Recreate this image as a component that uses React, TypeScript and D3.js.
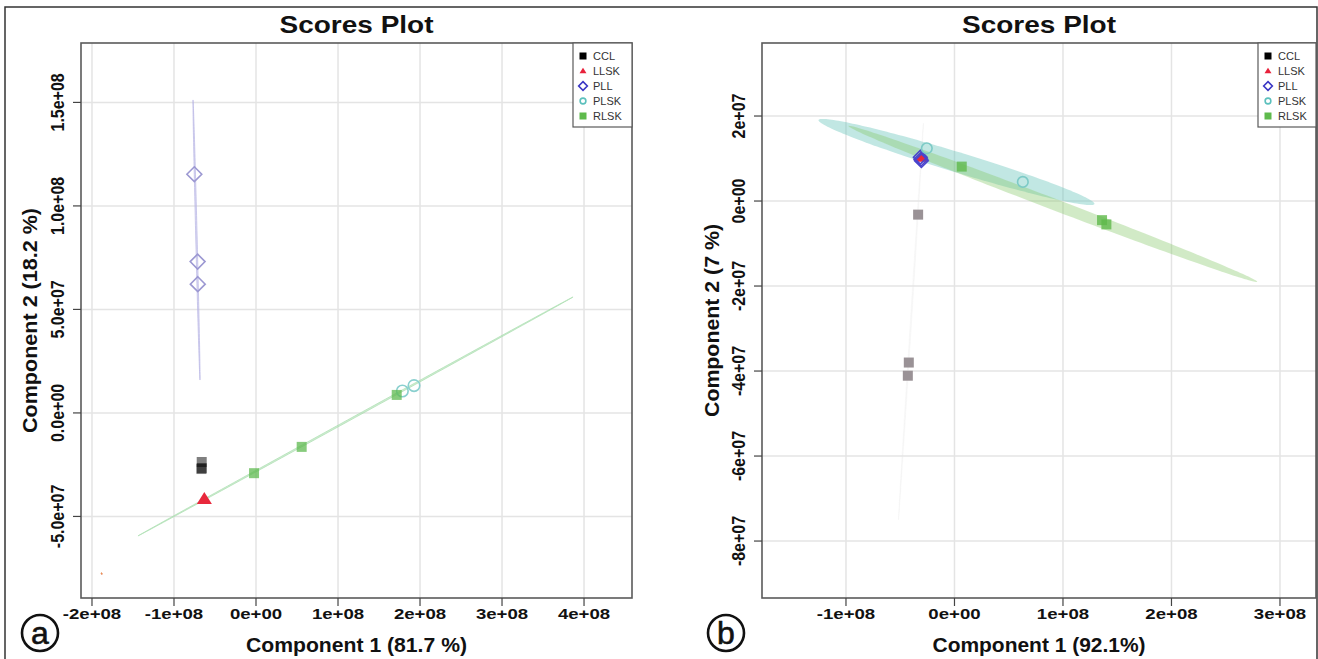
import React from "react";
import * as d3 from "d3";

// ---------- DATA ----------
const groups = ["CCL", "LLSK", "PLL", "PLSK", "RLSK"];

// Panel a scores
const aGroup = ["CCL", "CCL", "CCL", "LLSK", "PLL", "PLL", "PLL", "PLSK", "PLSK", "RLSK", "RLSK", "RLSK"];
const aPC1 = [-0.662e8, -0.662e8, -0.665e8, -0.63e8, -0.752e8, -0.712e8, -0.71e8, 1.785e8, 1.927e8, -0.024e8, 0.557e8, 1.716e8];
const aPC2 = [-2.37e7, -2.66e7, -2.71e7, -4.17e7, 1.153e8, 0.731e8, 0.622e8, 1.06e7, 1.32e7, -2.91e7, -1.64e7, 0.87e7];

// Panel b scores
const bGroup = ["CCL", "CCL", "CCL", "LLSK", "PLL", "PLL", "PLL", "PLSK", "PLSK", "RLSK", "RLSK", "RLSK"];
const bPC1 = [-0.335e8, -0.421e8, -0.43e8, -0.305e8, -0.31e8, -0.315e8, -0.305e8, -0.255e8, 0.63e8, 0.067e8, 1.36e8, 1.4e8];
const bPC2 = [-0.32e7, -3.8e7, -4.11e7, 1.02e7, 0.98e7, 1.03e7, 0.95e7, 1.24e7, 0.45e7, 0.81e7, -0.45e7, -0.55e7];

// Confidence ellipses: group, two tips of the major axis (data units), minor/major ratio
const aEllGroup = ["LLSK", "PLL", "RLSK"];
const aEllTips = [
  [-1.885e8, -7.72e7, -1.879e8, -7.8e7],
  [-0.768e8, 1.512e8, -0.683e8, 0.159e8],
  [-1.439e8, -5.94e7, 3.866e8, 5.6e7],
];
const aEllRatio = [0.5, 0.005, 0.003];

const bEllGroup = ["CCL", "PLSK", "RLSK"];
const bEllTips = [
  [-0.286e8, 1.835e7, -0.516e8, -7.5e7],
  [-1.253e8, 1.906e7, 1.29e8, -0.07e7],
  [-0.977e8, 1.765e7, 2.79e8, -1.9e7],
];
const bEllRatio = [0.003, 0.07, 0.026];

// Axes
const aXDomain = [-2.134e8, 4.585e8];
const aYDomain = [-8.94e7, 1.787e8];
const aXTicks = [-2e8, -1e8, 0, 1e8, 2e8, 3e8, 4e8];
const aXTickLabels = ["-2e+08", "-1e+08", "0e+00", "1e+08", "2e+08", "3e+08", "4e+08"];
const aYTicks = [-5e7, 0, 5e7, 1e8, 1.5e8];
const aYTickLabels = ["-5.0e+07", "0.0e+00", "5.0e+07", "1.0e+08", "1.5e+08"];

const bXDomain = [-1.774e8, 3.332e8];
const bYDomain = [-9.34e7, 3.718e7];
const bXTicks = [-1e8, 0, 1e8, 2e8, 3e8];
const bXTickLabels = ["-1e+08", "0e+00", "1e+08", "2e+08", "3e+08"];
const bYTicks = [-8e7, -6e7, -4e7, -2e7, 0, 2e7];
const bYTickLabels = ["-8e+07", "-6e+07", "-4e+07", "-2e+07", "0e+00", "2e+07"];

// ---------- STYLES ----------
const FONT = "'Liberation Sans', Arial, sans-serif";
const legendColor: Record<string, string> = {
  CCL: "#000000",
  LLSK: "#e8213b",
  PLL: "#3a36c4",
  PLSK: "#5cc0bd",
  RLSK: "#5fba4c",
};
const styleA: Record<string, any> = {
  CCL: { fill: "rgba(0,0,0,0.5)", stroke: "none" },
  LLSK: { fill: "#e8283c", stroke: "none" },
  PLL: { fill: "none", stroke: "#9c98d2" },
  PLSK: { fill: "none", stroke: "#8ad0cf" },
  RLSK: { fill: "rgba(95,185,80,0.75)", stroke: "none" },
};
const styleB: Record<string, any> = {
  CCL: { fill: "#9a9296", stroke: "none" },
  LLSK: { fill: "#e8283c", stroke: "none" },
  PLL: { fill: "none", stroke: "#4a44cc" },
  PLSK: { fill: "none", stroke: "#7ccac6" },
  RLSK: { fill: "rgba(95,185,75,0.8)", stroke: "none" },
};
const ellStyleA: Record<string, any> = {
  LLSK: { fill: "#f0a060", stroke: "#f0a060", sw: 1 },
  PLL: { fill: "rgba(185,183,230,0.5)", stroke: "rgba(185,183,230,0.7)", sw: 1 },
  RLSK: { fill: "rgba(165,220,170,0.5)", stroke: "rgba(170,222,175,0.7)", sw: 1 },
};
const ellStyleB: Record<string, any> = {
  CCL: { fill: "rgba(230,230,230,0.25)", stroke: "rgba(232,232,232,0.4)", sw: 0.5 },
  PLSK: { fill: "rgba(100,195,185,0.4)", stroke: "none", sw: 0 },
  RLSK: { fill: "rgba(135,200,105,0.38)", stroke: "none", sw: 0 },
};

function Marker({ g, x, y, st, size }: any) {
  const s = size;
  if (g === "CCL" || g === "RLSK") {
    return <rect x={x - s / 2} y={y - s / 2} width={s} height={s} fill={st.fill} stroke={st.stroke} />;
  }
  if (g === "LLSK") {
    const h = s * 0.9;
    return (
      <path
        d={`M${x},${y - h * 0.62}L${x + s * 0.58},${y + h * 0.4}L${x - s * 0.58},${y + h * 0.4}Z`}
        fill={st.fill}
      />
    );
  }
  if (g === "PLL") {
    const r = s * 0.62;
    return (
      <path
        d={`M${x},${y - r}L${x + r},${y}L${x},${y + r}L${x - r},${y}Z`}
        fill="none"
        stroke={st.stroke}
        strokeWidth={1.6}
      />
    );
  }
  return <circle cx={x} cy={y} r={s * 0.48} fill="none" stroke={st.stroke} strokeWidth={1.6} />;
}

function ellipsePath(xs: any, ys: any, tips: number[], ratio: number) {
  const x1 = xs(tips[0]), y1 = ys(tips[1]), x2 = xs(tips[2]), y2 = ys(tips[3]);
  const cx = (x1 + x2) / 2, cy = (y1 + y2) / 2;
  const a = Math.hypot(x2 - x1, y2 - y1) / 2;
  const b = Math.max(a * ratio, 0.5);
  const th = Math.atan2(y2 - y1, x2 - x1);
  const pts = d3.range(0, 2 * Math.PI, Math.PI / 90).map((t) => {
    const ex = a * Math.cos(t), ey = b * Math.sin(t);
    return [cx + ex * Math.cos(th) - ey * Math.sin(th), cy + ex * Math.sin(th) + ey * Math.cos(th)] as [number, number];
  });
  return d3.line().curve(d3.curveLinearClosed)(pts) as string;
}

function Panel(p: any) {
  const { left, right, top, bottom } = p;
  const xs = d3.scaleLinear().domain(p.xDomain).range([left, right]);
  const ys = d3.scaleLinear().domain(p.yDomain).range([bottom, top]);
  const cxm = (left + right) / 2;
  const cym = (top + bottom) / 2;
  const lg = p.legendLeft;
  return (
    <g>
      {/* title */}
      <text x={cxm} y={33} textAnchor="middle" fontFamily={FONT} fontWeight="bold" fontSize={24} textLength={154} lengthAdjust="spacingAndGlyphs" fill="#111">
        Scores Plot
      </text>
      {/* grid */}
      {p.xTicks.map((t: number, i: number) => (
        <line key={"gx" + i} x1={xs(t)} x2={xs(t)} y1={top} y2={bottom} stroke="#e4e4e4" strokeWidth={1.5} />
      ))}
      {p.yTicks.map((t: number, i: number) => (
        <line key={"gy" + i} x1={left} x2={right} y1={ys(t)} y2={ys(t)} stroke="#e4e4e4" strokeWidth={1.5} />
      ))}
      {/* ellipses */}
      {p.ellGroup.map((g: string, i: number) => {
        const st = p.ellStyle[g];
        return (
          <path key={"e" + i} d={ellipsePath(xs, ys, p.ellTips[i], p.ellRatio[i])} fill={st.fill} stroke={st.stroke} strokeWidth={st.sw} />
        );
      })}
      {/* points, drawn group by group */}
      {groups.map((g) =>
        p.group.map((gg: string, i: number) =>
          gg === g ? <Marker key={g + i} g={g} x={xs(p.pc1[i])} y={ys(p.pc2[i])} st={p.style[g]} size={p.markSize[g]} /> : null
        )
      )}
      {/* box */}
      <rect x={left} y={top} width={right - left} height={bottom - top} fill="none" stroke="#5a5a5a" strokeWidth={1.6} />
      {/* x axis ticks */}
      {p.xTicks.map((t: number, i: number) => (
        <g key={"xt" + i}>
          <line x1={xs(t)} x2={xs(t)} y1={bottom} y2={bottom + 8} stroke="#444" strokeWidth={1.2} />
          <g transform={`translate(${xs(t)},${619}) scale(1.2,1)`}>
            <text x={0} y={0} textAnchor="middle" fontFamily={FONT} fontWeight="bold" fontSize={15.5} fill="#111">
              {p.xTickLabels[i]}
            </text>
          </g>
        </g>
      ))}
      {/* y axis ticks */}
      {p.yTicks.map((t: number, i: number) => (
        <g key={"yt" + i}>
          <line x1={left - 8} x2={left} y1={ys(t)} y2={ys(t)} stroke="#444" strokeWidth={1.2} />
          <g transform={`translate(${left - 17},${ys(t)}) rotate(-90) scale(1.03,1.2)`}>
            <text x={0} y={0} textAnchor="middle" fontFamily={FONT} fontWeight="bold" fontSize={15.5} fill="#111">
              {p.yTickLabels[i]}
            </text>
          </g>
        </g>
      ))}
      {/* axis titles */}
      <text x={cxm} y={652} textAnchor="middle" fontFamily={FONT} fontWeight="bold" fontSize={20} textLength={p.xTitleLen} lengthAdjust="spacingAndGlyphs" fill="#111">
        {p.xTitle}
      </text>
      <text
        transform={`translate(${p.yTitleX},${cym}) rotate(-90)`}
        textAnchor="middle"
        fontFamily={FONT}
        fontWeight="bold"
        fontSize={20}
        textLength={p.yTitleLen}
        lengthAdjust="spacingAndGlyphs"
        fill="#111"
      >
        {p.yTitle}
      </text>
      {/* legend */}
      <rect x={lg} y={top} width={right - lg} height={84} fill="#fff" stroke="#5a5a5a" strokeWidth={1.2} />
      {groups.map((g, i) => {
        const yy = top + 13 + i * 15;
        return (
          <g key={"lg" + g}>
            <Marker g={g} x={lg + 10} y={yy} st={{ fill: legendColor[g], stroke: legendColor[g] }} size={g === "PLL" ? 7 : 6} />
            <text x={lg + 20} y={yy + 4} fontFamily={FONT} fontSize={11} fill="#333">
              {g}
            </text>
          </g>
        );
      })}
      {/* circled panel letter */}
      <circle cx={p.letterX} cy={633} r={18} fill="#fff" stroke="#111" strokeWidth={2.6} />
      <text x={p.letterX} y={644} textAnchor="middle" fontFamily={FONT} fontSize={32} fontWeight={500} stroke="#111" strokeWidth={0.6} fill="#111">
        {p.letter}
      </text>
    </g>
  );
}

export default function App() {
  return (
    <svg width={1318} height={659} style={{ position: "absolute", left: 0, top: 0, background: "#fff" }}>
      <rect x={0} y={0} width={1318} height={659} fill="#fff" />
      <rect x={5} y={7} width={1312} height={660} fill="none" stroke="#333" strokeWidth={1.5} />
      <Panel
        left={81}
        right={632}
        top={43}
        bottom={598}
        xDomain={aXDomain}
        yDomain={aYDomain}
        xTicks={aXTicks}
        xTickLabels={aXTickLabels}
        yTicks={aYTicks}
        yTickLabels={aYTickLabels}
        group={aGroup}
        pc1={aPC1}
        pc2={aPC2}
        ellGroup={aEllGroup}
        ellTips={aEllTips}
        ellRatio={aEllRatio}
        ellStyle={ellStyleA}
        style={styleA}
        markSize={{ CCL: 10, LLSK: 13, PLL: 12, PLSK: 12, RLSK: 10 }}
        legendLeft={573}
        xTitle="Component 1 (81.7 %)"
        xTitleLen={221}
        yTitle="Component 2 (18.2 %)"
        yTitleLen={225}
        yTitleX={37}
        letter="a"
        letterX={40}
      />
      <Panel
        left={762}
        right={1316}
        top={43}
        bottom={598}
        xDomain={bXDomain}
        yDomain={bYDomain}
        xTicks={bXTicks}
        xTickLabels={bXTickLabels}
        yTicks={bYTicks}
        yTickLabels={bYTickLabels}
        group={bGroup}
        pc1={bPC1}
        pc2={bPC2}
        ellGroup={bEllGroup}
        ellTips={bEllTips}
        ellRatio={bEllRatio}
        ellStyle={ellStyleB}
        style={styleB}
        markSize={{ CCL: 10, LLSK: 11, PLL: 11, PLSK: 11, RLSK: 10 }}
        legendLeft={1258}
        xTitle="Component 1 (92.1%)"
        xTitleLen={213}
        yTitle="Component 2 (7 %)"
        yTitleLen={193}
        yTitleX={719}
        letter="b"
        letterX={726}
      />
    </svg>
  );
}
